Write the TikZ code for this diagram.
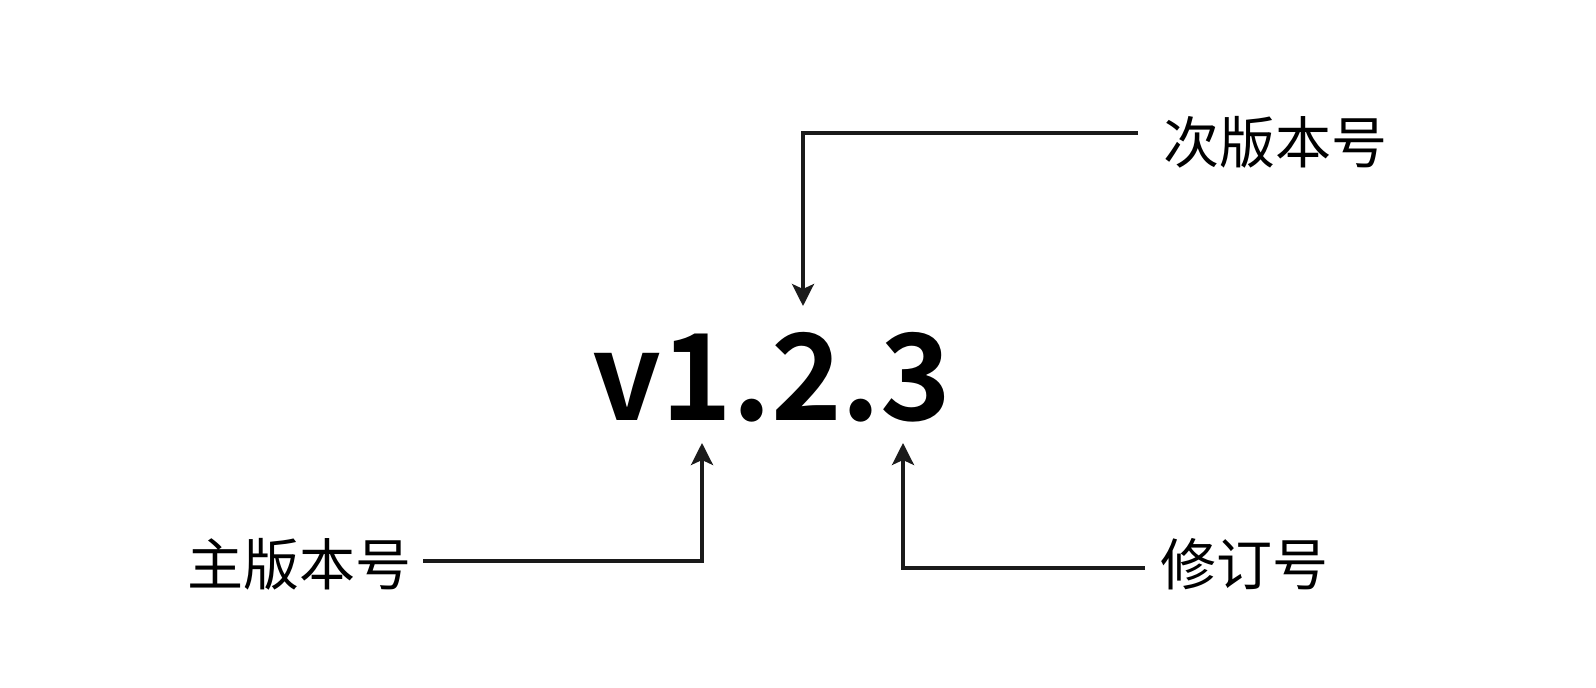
\documentclass[tikz,border=0pt]{standalone}
\usepackage{fontspec}
\newfontfamily\cjk{Noto Sans CJK SC}
\newfontfamily\numfont{Noto Sans CJK SC Bold}
\usetikzlibrary{arrows.meta}
\definecolor{ink}{HTML}{1A1A1A}
\tikzset{
  label/.style={font=\cjk\fontsize{28}{30}\selectfont, inner sep=0pt, text=black},
  ver/.style={font=\numfont\fontsize{60}{68}\selectfont, inner sep=0pt, text=black},
  link/.style={draw=ink, line width=1.7pt, line join=miter,
    -{Stealth[length=11pt,width=11pt,inset=2.5pt]}}
}
\begin{document}
\begin{tikzpicture}[x=0.5pt,y=-0.5pt]
\useasboundingbox (0,0) rectangle (1596,688);
% version string
\node[ver] (ver) at (772,377) {v1.2.3};
% arrow tips just above/below the digits
\coordinate (tipMin) at (803,306);
\coordinate (tipMaj) at (702,443);
\coordinate (tipPat) at (903,443);
% labels
\node[label, anchor=west] (minor) at (1163,142) {次版本号};
\node[label, anchor=east] (major) at (412,564) {主版本号};
\node[label, anchor=west] (patch) at (1160,564) {修订号};
% connectors
\draw[link] ([xshift=-12.5pt,yshift=4.5pt]minor.west) -| (tipMin);
\draw[link] ([xshift=5.5pt,yshift=1.5pt]major.east) -| (tipMaj);
\draw[link] ([xshift=-7.5pt,yshift=-2pt]patch.west) -| (tipPat);
\end{tikzpicture}
\end{document}
